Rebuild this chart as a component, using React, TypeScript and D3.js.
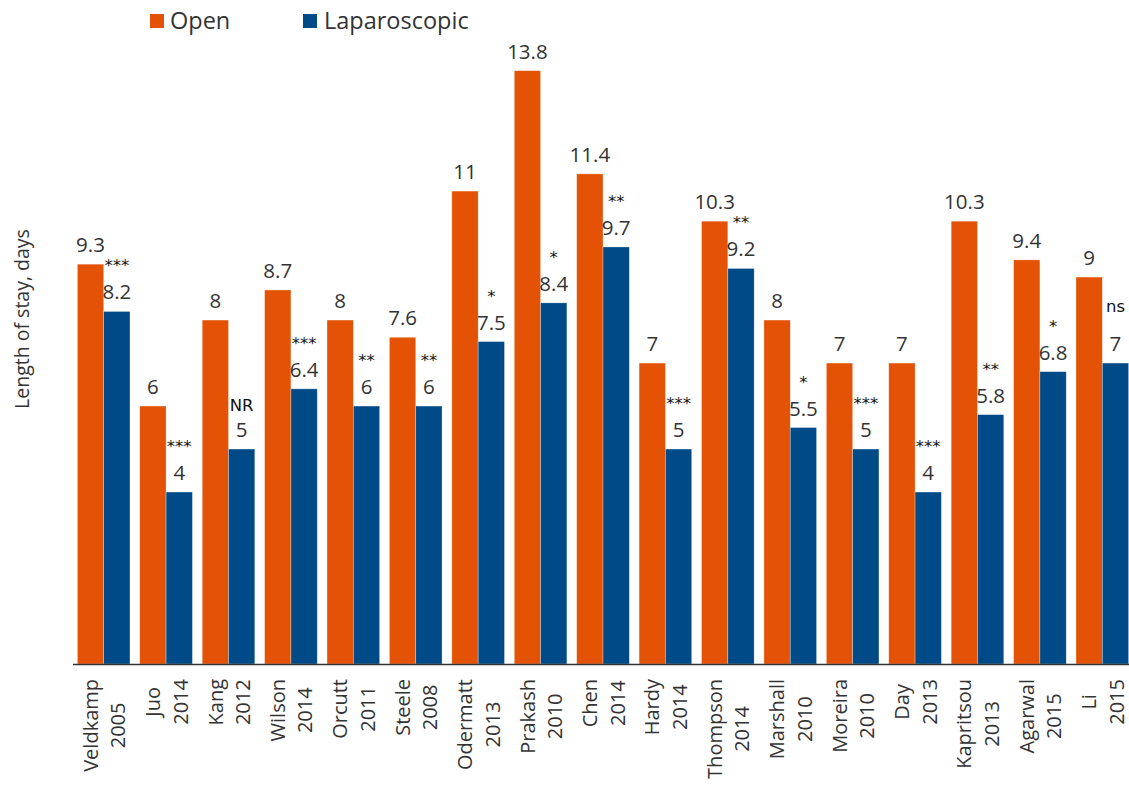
import React from "react";
import * as d3 from "d3";

const studies = ["Veldkamp","Juo","Kang","Wilson","Orcutt","Steele","Odermatt","Prakash","Chen","Hardy","Thompson","Marshall","Moreira","Day","Kapritsou","Agarwal","Li"];
const years = ["2005","2014","2012","2014","2011","2008","2013","2010","2014","2014","2014","2010","2010","2013","2013","2015","2015"];
const openValues = [9.3,6,8,8.7,8,7.6,11,13.8,11.4,7,10.3,8,7,7,10.3,9.4,9];
const lapValues = [8.2,4,5,6.4,6,6,7.5,8.4,9.7,5,9.2,5.5,5,4,5.8,6.8,7];
const significance = ["***","***","NR","***","**","**","*","*","**","***","**","*","***","***","**","*","ns"];
const seriesNames = ["Open","Laparoscopic"];
const seriesColors = ["#E35205","#004A87"];

const W = 1129, H = 785;
const FONT = "'Open Sans', sans-serif";
const TEXT = "#333333";

function measure(text: string, font: string): number {
  const c = document.createElement("canvas");
  const ctx = c.getContext("2d")!;
  ctx.font = font;
  return ctx.measureText(text).width;
}

export default function App() {
  const x0 = d3.scaleBand<string>().domain(studies).range([73, 1133]).paddingInner(0.157).paddingOuter(0.07);
  const x1 = d3.scaleBand<string>().domain(seriesNames).range([0, x0.bandwidth()]);
  const y = d3.scaleLinear().domain([0, 13.8]).range([664, 70.7]);
  const fmt = (v: number) => d3.format("")(v);

  const labelFont = `20px ${FONT}`;

  const markerOffset = (m: string) => (m === "ns" ? 51 : m === "NR" ? 38.5 : 40);

  return (
    <svg width={W} height={H} style={{ position: "absolute", left: 0, top: 0 }} fontFamily={FONT}>
      {/* legend */}
      <rect x={150} y={14} width={14} height={14} fill={seriesColors[0]} />
      <text x={170} y={29} fontSize={23.5} fill={TEXT}>{seriesNames[0]}</text>
      <rect x={303} y={14} width={14} height={14} fill={seriesColors[1]} />
      <text x={324} y={29} fontSize={23.5} fill={TEXT}>{seriesNames[1]}</text>

      {/* y title */}
      <text transform={`translate(29,319) rotate(-90)`} textAnchor="middle" fontSize={19.5} fill={TEXT}>Length of stay, days</text>

      {/* bars */}
      {studies.map((s, i) => {
        const gx = x0(s)!;
        const vals = [openValues[i], lapValues[i]];
        return (
          <g key={s}>
            {vals.map((v, j) => {
              const bx = gx + x1(seriesNames[j])!;
              const bw = x1.bandwidth();
              return (
                <g key={j}>
                  <rect x={bx} y={y(v)} width={bw} height={y(0) - y(v)} fill={seriesColors[j]} stroke="#ffffff" strokeOpacity={0.5} strokeWidth={0.6} />
                  <text x={bx + bw / 2} y={y(v) - 12} textAnchor="middle" fontSize={20.5} fill={TEXT}>{fmt(v)}</text>
                </g>
              );
            })}
            <text
              x={gx + x1(seriesNames[1])! + x1.bandwidth() / 2}
              y={y(lapValues[i]) - markerOffset(significance[i])}
              textAnchor="middle"
              fontSize={16.5}
              fontFamily="'DejaVu Sans', sans-serif"
              fill="#111111"
            >{significance[i]}</text>
          </g>
        );
      })}

      {/* x axis line */}
      <line x1={73} x2={1129} y1={664.5} y2={664.5} stroke="#333333" strokeWidth={1.5} />

      {/* x labels */}
      {studies.map((s, i) => {
        const cx = x0(s)! + x0.bandwidth() / 2;
        const maxW = Math.max(measure(s, labelFont), measure(years[i], labelFont));
        const cy = 679 + maxW / 2;
        return (
          <g key={"l" + s}>
            <text transform={`translate(${cx - 6},${cy}) rotate(-90)`} textAnchor="middle" fontSize={20} fill={TEXT}>{s}</text>
            <text transform={`translate(${cx + 21.5},${cy}) rotate(-90)`} textAnchor="middle" fontSize={20} fill={TEXT}>{years[i]}</text>
          </g>
        );
      })}
    </svg>
  );
}
